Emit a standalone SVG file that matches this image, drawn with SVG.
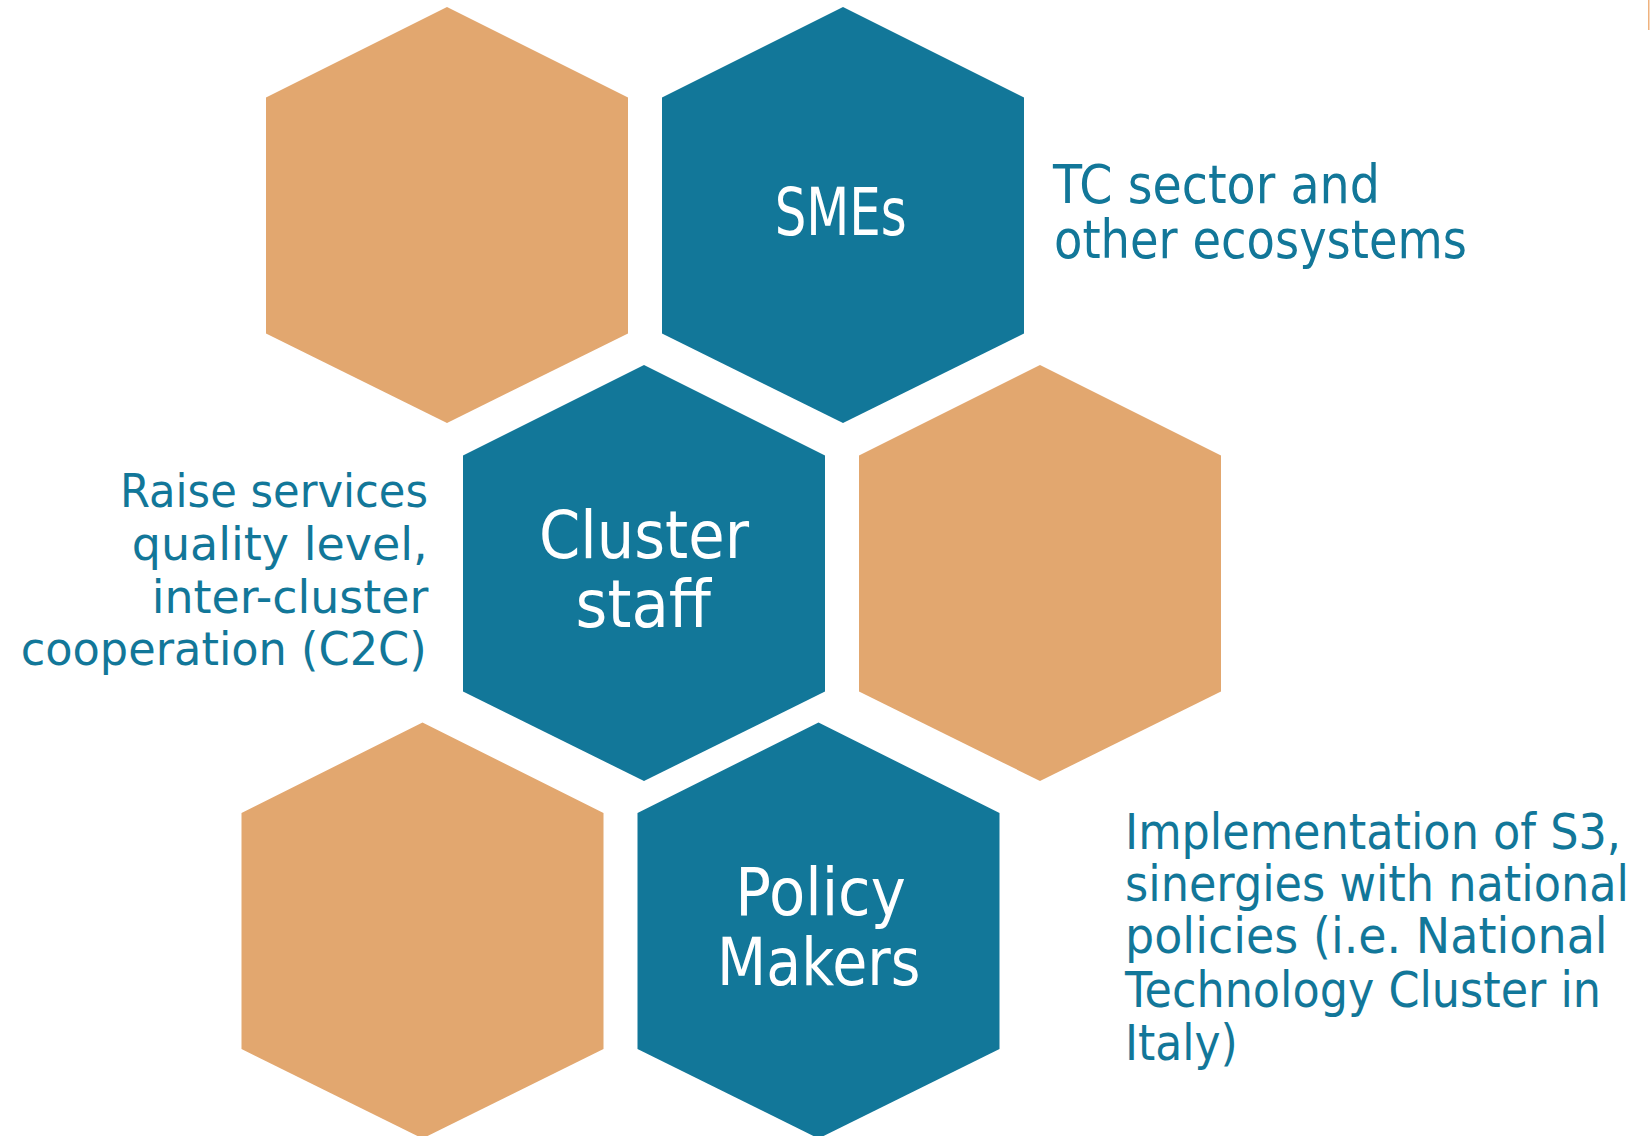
<svg xmlns="http://www.w3.org/2000/svg" xmlns:xlink="http://www.w3.org/1999/xlink" width="1650" height="1136" viewBox="0 0 1650 1136">
<style>
.or{fill:#E2A76F}
.bl{fill:#127799}
.lbl{font-family:"DejaVu Sans","Liberation Sans",sans-serif;fill:#FFFFFF;font-size:65px}
.txt{font-family:"DejaVu Sans","Liberation Sans",sans-serif;fill:#127799}
</style>
<defs>
<polygon id="hex" points="0,0 181,90.5 181,326.5 0,416 -181,326.5 -181,90.5"/>
</defs>
<rect width="1650" height="1136" fill="#FFFFFF"/>
<rect x="1648" y="0" width="1.5" height="30" fill="#EFB27E"/>
<g id="hex-top-left"><use xlink:href="#hex" x="447" y="7" class="or"/></g>
<g id="node-smes">
<use xlink:href="#hex" x="843" y="7" class="bl"/>
<text class="lbl" x="774.7" y="235" textLength="132" lengthAdjust="spacingAndGlyphs">SMEs</text>
</g>
<g id="node-cluster-staff">
<use xlink:href="#hex" x="644" y="365" class="bl"/>
<text class="lbl" x="539" y="558.3" textLength="210" lengthAdjust="spacingAndGlyphs">Cluster</text>
<text class="lbl" x="575.6" y="626.7" textLength="135.4" lengthAdjust="spacingAndGlyphs">staff</text>
</g>
<g id="hex-mid-right"><use xlink:href="#hex" x="1040" y="365" class="or"/></g>
<g id="hex-bottom-left"><use xlink:href="#hex" x="422.5" y="722.5" class="or"/></g>
<g id="node-policy-makers">
<use xlink:href="#hex" x="818.5" y="722.5" class="bl"/>
<text class="lbl" x="735.3" y="915" textLength="170.5" lengthAdjust="spacingAndGlyphs">Policy</text>
<text class="lbl" x="717" y="985" textLength="203.4" lengthAdjust="spacingAndGlyphs">Makers</text>
</g>
<g id="text-smes" transform="translate(1053,0) scale(0.8,1)">
<text class="txt" font-size="53" x="0" y="203.3" textLength="408.75" lengthAdjust="spacingAndGlyphs">TC sector and</text>
<text class="txt" font-size="53" x="1.25" y="258.3" textLength="516.25" lengthAdjust="spacingAndGlyphs">other ecosystems</text>
</g>
<g id="text-cluster">
<text class="txt" font-size="46" x="120" y="506.7" textLength="308" lengthAdjust="spacingAndGlyphs">Raise services</text>
<text class="txt" font-size="46" x="131.7" y="560" textLength="296" lengthAdjust="spacingAndGlyphs">quality level,</text>
<text class="txt" font-size="46" x="151.7" y="613.3" textLength="276.6" lengthAdjust="spacingAndGlyphs">inter-cluster</text>
<text class="txt" font-size="46" x="20.7" y="665" textLength="406" lengthAdjust="spacingAndGlyphs">cooperation (C2C)</text>
</g>
<g id="text-policy" transform="translate(1125,0) scale(0.75,1)">
<text class="txt" font-size="50" x="0" y="849.3" textLength="661.3" lengthAdjust="spacingAndGlyphs">Implementation of S3,</text>
<text class="txt" font-size="50" x="0" y="900.7" textLength="672" lengthAdjust="spacingAndGlyphs">sinergies with national</text>
<text class="txt" font-size="50" x="0" y="953.3" textLength="643.5" lengthAdjust="spacingAndGlyphs">policies (i.e. National</text>
<text class="txt" font-size="50" x="0" y="1006.7" textLength="634.7" lengthAdjust="spacingAndGlyphs">Technology Cluster in</text>
<text class="txt" font-size="50" x="0" y="1060" textLength="150.3" lengthAdjust="spacingAndGlyphs">Italy)</text>
</g>
<g id="connectors"/>
</svg>
